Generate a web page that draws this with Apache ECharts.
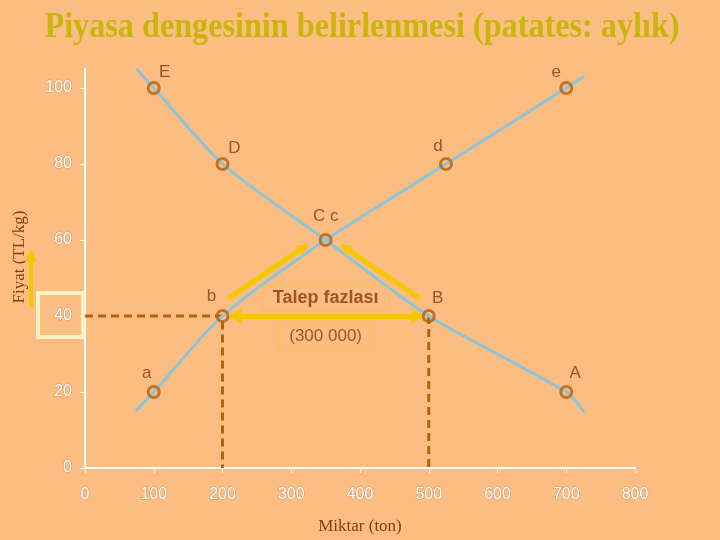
<!DOCTYPE html>
<html>
<head>
<meta charset="utf-8">
<script src="https://cdn.jsdelivr.net/npm/echarts@6/dist/echarts.min.js"></script>
<style>
html,body{margin:0;padding:0;background:#fbbd82;}
#c{width:720px;height:540px;}
</style>
</head>
<body>
<div id="c"></div>
<script>
// ---- data ----
const titleText = 'Piyasa dengesinin belirlenmesi (patates: aylık)';
const xName = 'Miktar (ton)';
const yName = 'Fiyat (TL/kg)';
const xTicks = [0, 100, 200, 300, 400, 500, 600, 700, 800];
const yTicks = [0, 20, 40, 60, 80, 100];
const supplyX = [74, 100, 200, 350, 525, 700, 726];
const supplyY = [15, 20, 40, 60, 80, 100, 103];
const demandX = [75, 100, 200, 350, 500, 700, 726];
const demandY = [105, 100, 80, 60, 40, 20, 14.7];
const pointNames = ['E', 'e', 'D', 'd', 'C c', 'b', 'B', 'a', 'A'];
const pointX = [100, 700, 200, 525, 350, 200, 500, 100, 700];
const pointY = [100, 100, 80, 80, 60, 40, 40, 20, 20];
const excessPrice = 40;
const qtySupplied = 200;
const qtyDemanded = 500;
const excessText = 'Talep fazlası';
const excessAmount = '(300 000)';
const supplyName = 'Arz';
const demandName = 'Talep';

// ---- styles ----
const brown = '#8b3a0a';
const markerBrown = '#b5620f';
const blue = '#8ec4d8';
const gold = '#f7c600';
const labelOffsets = {
  'E': [11, -16], 'e': [-10, -16], 'D': [12, -16], 'd': [-8, -18],
  'C c': [0, -24], 'b': [-11, -20], 'B': [9, -18], 'a': [-7, -19], 'A': [9, -19]
};

const chart = echarts.init(document.getElementById('c'));

const zip = (xs, ys) => xs.map((x, i) => [x, ys[i]]);

const supplyData = zip(supplyX, supplyY).map((p, i, arr) => i === arr.length - 1 ?
  { value: p, label: { show: true, formatter: supplyName, offset: [10, 38], position: 'inside',
    color: brown, fontSize: 17, fontFamily: 'Liberation Sans' } } : p);
const demandData = zip(demandX, demandY).map((p, i, arr) => i === arr.length - 1 ?
  { value: p, label: { show: true, formatter: demandName, offset: [4, 19], position: 'inside',
    color: brown, fontSize: 17, fontFamily: 'Liberation Sans' } } : p);

const pointData = pointNames.map((n, i) => ({
  name: n, value: [pointX[i], pointY[i]],
  label: { offset: labelOffsets[n] }
}));

const guideStyle = { color: markerBrown, width: 3, type: [8, 5] };

// arrow geometry (annotation, in data units)
const arrowSegments = [
  { coords: [[208, 44.6], [322, 58.6]], symbol: ['none', 'arrow'], size: 10 },
  { coords: [[487, 44.6], [373, 58.6]], symbol: ['none', 'arrow'], size: 10 },
  { coords: [[qtySupplied + 11, excessPrice], [qtyDemanded - 8, excessPrice]], symbol: ['arrow', 'arrow'], size: 13 }
];

const option = {
  backgroundColor: '#fbbd82',
  animation: false,
  grid: { left: 85, right: 85, top: 69, bottom: 71 },
  xAxis: {
    type: 'value', min: 0, max: 800, interval: 100,
    axisLine: { lineStyle: { color: '#ffffff', width: 2 } },
    axisTick: { show: true, length: 5, lineStyle: { color: '#ffffff', width: 1 } },
    axisLabel: { color: '#ffffff', fontSize: 16, fontFamily: 'Liberation Sans', margin: 19,
      textBorderColor: 'rgba(150,110,80,0.5)', textBorderWidth: 1 },
    splitLine: { show: false },
    name: xName, nameLocation: 'middle', nameGap: 50,
    nameTextStyle: { color: brown, fontSize: 17, fontFamily: 'Liberation Serif' }
  },
  yAxis: {
    type: 'value', min: 0, max: 105,
    axisLine: { show: true, lineStyle: { color: '#ffffff', width: 2 } },
    axisTick: { show: true, length: 5, customValues: yTicks, lineStyle: { color: '#ffffff', width: 1 } },
    axisLabel: { color: '#ffffff', fontSize: 16, fontFamily: 'Liberation Sans', margin: 13,
      customValues: yTicks,
      textBorderColor: 'rgba(150,110,80,0.5)', textBorderWidth: 1 },
    splitLine: { show: false }
  },
  graphic: [
    { type: 'text', x: 362, y: 28, scaleX: 0.92, z: 10,
      style: { text: titleText, fill: '#c9b60c', font: 'bold 35px "Liberation Serif"',
        align: 'center', verticalAlign: 'middle',
        shadowColor: 'rgba(120,80,0,0.6)', shadowOffsetX: 1, shadowOffsetY: 1, shadowBlur: 1 } },
    { type: 'text', x: 20, y: 257, rotation: Math.PI / 2, z: 10,
      style: { text: yName, fill: brown, font: '17px "Liberation Serif"', align: 'center', verticalAlign: 'middle' } },
    { type: 'rect', shape: { x: 38, y: 293, width: 45, height: 44 }, z: 10,
      style: { fill: 'none', stroke: '#fff2c0', lineWidth: 4 } },
    { type: 'line', shape: { x1: 31, y1: 307, x2: 31, y2: 260 }, z: 10,
      style: { stroke: gold, lineWidth: 4 } },
    { type: 'polygon', shape: { points: [[25, 262], [37, 262], [31, 249]] }, z: 10,
      style: { fill: gold } }
  ],
  series: [
    { type: 'line', data: [[0, excessPrice], [qtySupplied, excessPrice], [qtySupplied, 0]],
      symbol: 'none', lineStyle: guideStyle, z: 1, silent: true },
    { type: 'line', data: [[qtyDemanded, excessPrice], [qtyDemanded, 0]],
      symbol: 'none', lineStyle: guideStyle, z: 1, silent: true },
    { type: 'line', data: supplyData, smooth: 0.25, symbol: 'none',
      lineStyle: { color: blue, width: 3 }, z: 2 },
    { type: 'line', data: demandData, smooth: 0.25, symbol: 'none',
      lineStyle: { color: blue, width: 3 }, z: 2 },
    { type: 'lines', coordinateSystem: 'cartesian2d', z: 3,
      data: arrowSegments.map(a => ({ coords: a.coords, symbol: a.symbol, symbolSize: a.size })),
      lineStyle: { color: gold, width: 5, opacity: 1 } },
    { type: 'scatter', data: pointData, symbol: 'circle', symbolSize: 11, z: 5,
      itemStyle: { color: 'rgba(0,0,0,0)', borderColor: markerBrown, borderWidth: 3 },
      label: { show: true, position: 'inside', formatter: p => p.name, color: brown,
        fontSize: 17, fontFamily: 'Liberation Sans' } },
    { type: 'scatter', symbolSize: 0, z: 6, silent: true,
      data: [
        { value: [350, 44.6], label: { formatter: excessText, fontWeight: 'bold', fontSize: 18,
          padding: [4, 11, 3, 11] } },
        { value: [350, 34.6], label: { formatter: excessAmount, fontSize: 17,
          padding: [6, 11, 5, 11] } }
      ],
      label: { show: true, position: 'inside', color: brown, fontFamily: 'Liberation Sans',
        borderColor: '#f5c542', borderWidth: 1 } }
  ]
};
chart.setOption(option);
</script>
</body>
</html>
